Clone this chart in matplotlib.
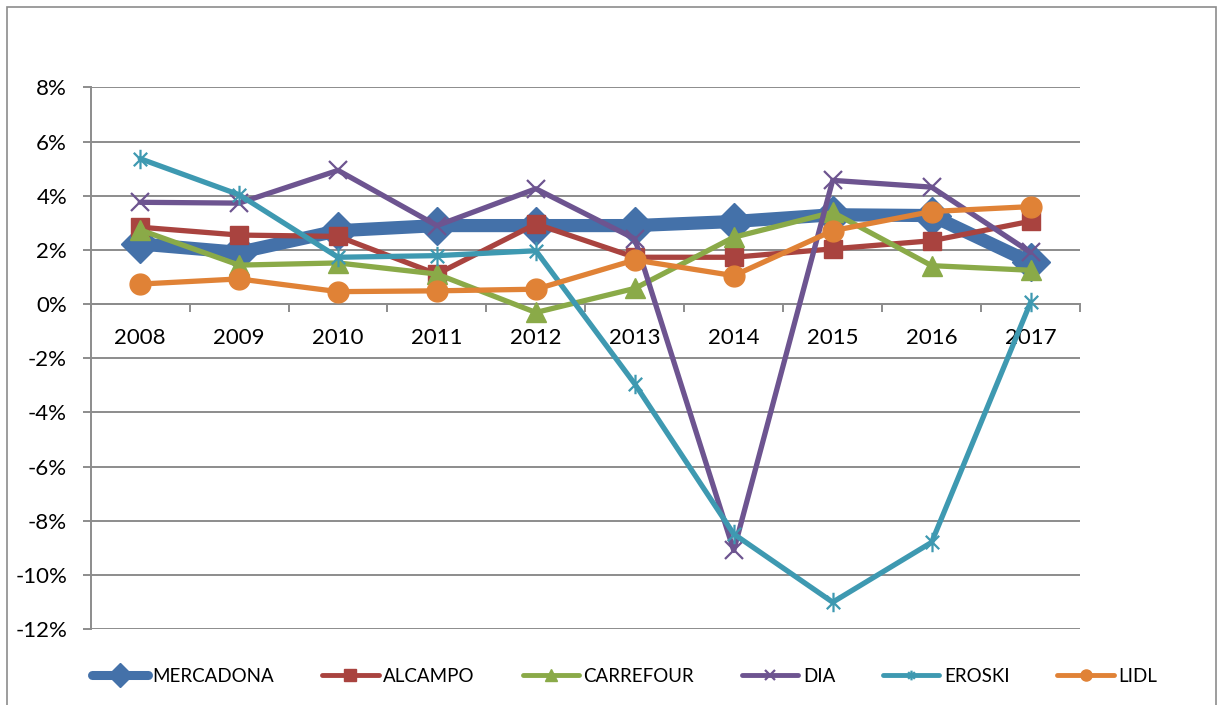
import matplotlib
matplotlib.use("Agg")
import matplotlib.pyplot as plt
from matplotlib.path import Path
from matplotlib.patches import Rectangle
from matplotlib.ticker import FuncFormatter, FixedLocator

years = ["2008", "2009", "2010", "2011", "2012", "2013", "2014", "2015", "2016", "2017"]
mercadona = [2.22, 1.91, 2.71, 2.90, 2.90, 2.90, 3.05, 3.30, 3.27, 1.54]
alcampo = [2.84, 2.55, 2.50, 1.11, 2.96, 1.73, 1.73, 2.04, 2.34, 3.06]
carrefour = [2.74, 1.44, 1.52, 1.11, -0.31, 0.58, 2.47, 3.39, 1.42, 1.25]
dia = [3.76, 3.73, 4.94, 2.90, 4.26, 2.41, -9.10, 4.57, 4.32, 1.91]
eroski = [5.37, 4.04, 1.73, 1.79, 1.97, -2.95, -8.49, -11.01, -8.80, 0.06]
lidl = [0.74, 0.93, 0.46, 0.49, 0.55, 1.63, 1.05, 2.71, 3.42, 3.60]
series_names = ["MERCADONA", "ALCAMPO", "CARREFOUR", "DIA", "EROSKI", "LIDL"]

plt.rcParams['font.family'] = ['Lato', 'DejaVu Sans']

W, H = 1218, 705
fig = plt.figure(figsize=(W / 100, H / 100), dpi=100)
fig.patches.append(Rectangle((7 / W, -0.05), (1216 - 7) / W, 1 - 7 / H + 0.05,
                             transform=fig.transFigure, fill=False,
                             edgecolor='#8c8c8c', linewidth=1.2))

left, right, top, bottom = 90.7, 1080, 87.5, 629
ax = fig.add_axes([left / W, 1 - bottom / H, (right - left) / W, (bottom - top) / H])

x = list(range(len(years)))

star_path = Path([(-1, -1), (1, 1), (-1, 1), (1, -1), (0, -1.45), (0, 1.45)],
                 [Path.MOVETO, Path.LINETO, Path.MOVETO, Path.LINETO, Path.MOVETO, Path.LINETO])

cols = ['#4471A9', '#A9433F', '#8AAA48', '#6D5490', '#3E99B1', '#E08236']
styles = [
    dict(lw=9.5, marker='D', ms=19, mfc=cols[0], mec=cols[0], mew=1),
    dict(lw=3.8, marker='s', ms=13, mfc=cols[1], mec=cols[1], mew=1),
    dict(lw=3.8, marker='^', ms=14, mfc=cols[2], mec=cols[2], mew=1),
    dict(lw=3.8, marker='x', ms=13, mfc='none', mec=cols[3], mew=1.6),
    dict(lw=3.8, marker=star_path, ms=14, mfc='none', mec=cols[4], mew=1.6),
    dict(lw=3.8, marker='o', ms=15, mfc=cols[5], mec=cols[5], mew=1),
]
data = [mercadona, alcampo, carrefour, dia, eroski, lidl]
for i, (vals, name, st) in enumerate(zip(data, series_names, styles)):
    ax.plot(x, vals, color=cols[i], label=name, solid_joinstyle='round',
            solid_capstyle='round', zorder=3 + i, clip_on=False, **st)

ax.set_xlim(-0.5, len(years) - 0.5)
ax.set_ylim(-12, 8)
ax.yaxis.set_major_locator(FixedLocator(list(range(-12, 9, 2))))
ax.yaxis.set_major_formatter(FuncFormatter(lambda v, p: "%d%%" % v))
ax.grid(axis='y', color='#8c8c8c', linewidth=1.4, zorder=0)
ax.set_axisbelow(True)

for s in ['top', 'right']:
    ax.spines[s].set_visible(False)
ax.spines['left'].set_color('#8c8c8c')
ax.spines['left'].set_linewidth(1.4)
ax.spines['bottom'].set_position(('data', 0))
ax.spines['bottom'].set_color('#8c8c8c')
ax.spines['bottom'].set_linewidth(1.4)

ax.set_xticks(x)
ax.set_xticklabels(years)
ax.set_xticks([k + 0.5 for k in range(-1, len(years))], minor=True)
ax.tick_params(axis='x', which='major', length=0, pad=17, labelsize=16)
ax.tick_params(axis='x', which='minor', length=6, width=1.4, color='#8c8c8c', direction='out')
ax.tick_params(axis='y', length=6, width=1.4, color='#8c8c8c', pad=11, labelsize=16)

leg = ax.legend(loc='center', bbox_to_anchor=(624.5 / W, 1 - 676 / H),
                bbox_transform=fig.transFigure, ncol=6, frameon=False,
                fontsize=13.5, handlelength=3.0, handletextpad=0.25,
                columnspacing=2.55, borderaxespad=0)
for h, ms, lw in zip(leg.legend_handles, [12, 8, 8, 7, 7, 8], [6.5, 3.5, 3.5, 3.5, 3.5, 3.5]):
    h.set_markersize(ms)
    h.set_linewidth(lw)

fig.savefig("out.png", dpi=100)
